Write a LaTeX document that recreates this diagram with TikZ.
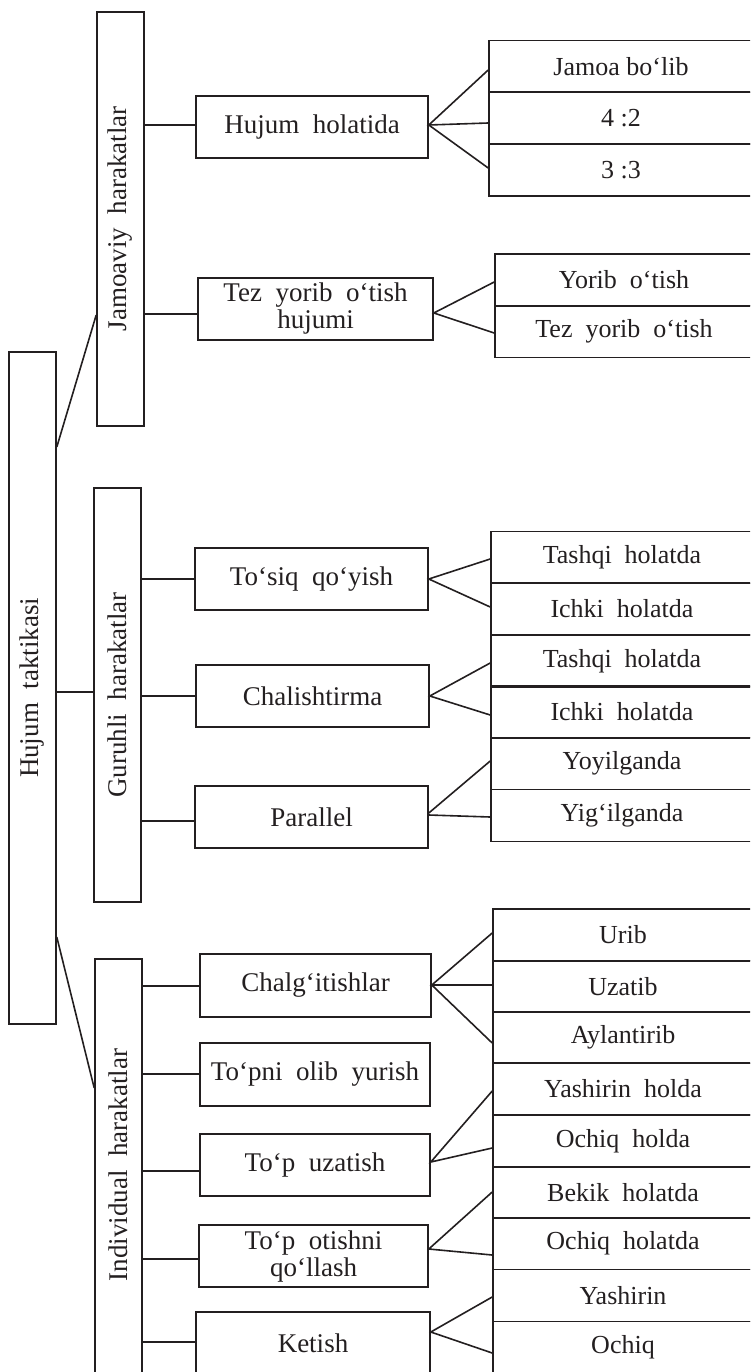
\documentclass[tikz,border=0pt]{standalone}
\usepackage{fontspec}
\setmainfont{Liberation Serif}
\definecolor{ink}{HTML}{231F20}
\begin{document}
\begin{tikzpicture}[x=1pt,y=-1pt,
  lw/.style={line width=1.6pt},
  bar/.style={draw=ink,lw,inner sep=0pt,minimum width=47,fill=none},
  vtext/.style={rotate=90,text=ink,inner sep=0pt,font=\fontsize{27}{28}\selectfont},
  midbox/.style={draw=ink,lw,inner sep=0pt,align=center,text=ink,minimum height=62,font=\fontsize{27}{27}\selectfont},
  rbox/.style={draw=ink,lw,inner sep=0pt,align=center,text=ink,minimum height=52,anchor=center,font=\fontsize{26}{27}\selectfont},
  conn/.style={draw=ink,lw}]
\clip (0,0) rectangle (750,1372);
% level 0 and 1 bars
\node[bar,minimum height=672] (main) at (32.5,688) {};
\node[vtext] (maint) at (main.center) {Hujum\ \ taktikasi};
\node[bar,minimum height=414] (jam) at (120.5,219) {};
\node[vtext] (jamt) at (jam.center) {Jamoaviy\ \ harakatlar};
\node[bar,minimum height=414] (gur) at (117.5,695) {};
\node[vtext] (gurt) at (gur.center) {Guruhli\ \ harakatlar};
\node[bar,minimum height=421] (ind) at (118.5,1169.5) {};
\node[vtext] (indt) at (118.5,1165) {Individual\ \ harakatlar};
% level 2
\node[midbox,minimum width=232] (hh) at (312,127) {Hujum\ \ holatida};
\node[midbox,minimum width=235] (tez) at (315.5,309) {Tez\ \ yorib\ \ o‘tish\\hujumi};
\node[midbox,minimum width=233] (tos) at (311.5,579) {To‘siq\ \ qo‘yish};
\node[midbox,minimum width=233] (cha) at (312.5,696) {Chalishtirma};
\node[midbox,minimum width=233] (par) at (311.5,817) {Parallel};
\node[midbox,minimum width=231,minimum height=63] (chg) at (315.5,985.5) {Chalg‘itishlar};
\node[midbox,minimum width=230,minimum height=63] (tpo) at (315,1074.5) {To‘pni\ \ olib\ \ yurish};
\node[midbox,minimum width=230] (tpu) at (315,1165) {To‘p\ \ uzatish};
\node[midbox,minimum width=229] (tpq) at (313.5,1256) {To‘p\ \ otishni\\qo‘llash};
\node[midbox,minimum width=234] (ket) at (313,1343) {Ketish};
% right boxes
\node[rbox,minimum width=264] (a1) at (621,66.5) {Jamoa bo‘lib};
\node[rbox,minimum width=264] (a2) at (621,118) {4 :2};
\node[rbox,minimum width=264] (a3) at (621,170) {3 :3};
\node[rbox,minimum width=258] (b1) at (624,280) {Yorib\ \ o‘tish};
\node[rbox,minimum width=258] (b2) at (624,331.5) {Tez\ \ yorib\ \ o‘tish};
\node[rbox,minimum width=262] (c1) at (622,557.5) {Tashqi\ \ holatda};
\node[rbox,minimum width=262] (c2) at (622,609) {Ichki\ \ holatda};
\node[rbox,minimum width=262] (c3) at (622,661) {Tashqi\ \ holatda};
\node[rbox,minimum width=262] (c4) at (622,712) {Ichki\ \ holatda};
\node[rbox,minimum width=262] (c5) at (622,763.5) {Yoyilganda};
\node[rbox,minimum width=262] (c6) at (622,815.5) {Yig‘ilganda};
\node[rbox,minimum width=260] (d1) at (623,935) {Urib};
\node[rbox,minimum width=260] (d2) at (623,986.5) {Uzatib};
\node[rbox,minimum width=260] (d3) at (623,1037.5) {Aylantirib};
\node[rbox,minimum width=260] (d4) at (623,1089) {Yashirin\ \ holda};
\node[rbox,minimum width=260] (d5) at (623,1141) {Ochiq\ \ holda};
\node[rbox,minimum width=260] (d6) at (623,1192.5) {Bekik\ \ holatda};
\node[rbox,minimum width=260] (d7) at (623,1243.5) {Ochiq\ \ holatda};
\node[rbox,minimum width=260] (d8) at (623,1295.5) {Yashirin};
\node[rbox,minimum width=260] (d9) at (623,1347.5) {Ochiq};
% level 0 -> 1
\draw[conn] (main.east |- 0,447) -- (jam.west |- 0,315);
\draw[conn] (main.east |- 0,692) -- (gur.west |- 0,692);
\draw[conn] (main.east |- 0,937) -- (ind.west |- 0,1088);
% level 1 -> 2
\draw[conn] (jam.east |- 0,125) -- (hh.west |- 0,125);
\draw[conn] (jam.east |- 0,314) -- (tez.west |- 0,314);
\draw[conn] (gur.east |- 0,579) -- (tos.west |- 0,579);
\draw[conn] (gur.east |- 0,696) -- (cha.west |- 0,696);
\draw[conn] (gur.east |- 0,821) -- (par.west |- 0,821);
\draw[conn] (ind.east |- 0,986) -- (chg.west |- 0,986);
\draw[conn] (ind.east |- 0,1074) -- (tpo.west |- 0,1074);
\draw[conn] (ind.east |- 0,1171) -- (tpu.west |- 0,1171);
\draw[conn] (ind.east |- 0,1259) -- (tpq.west |- 0,1259);
\draw[conn] (ind.east |- 0,1342) -- (ket.west |- 0,1342);
% level 2 -> 3 fans
\draw[conn] (a1.west |- 0,70) -- (hh.east |- 0,125) -- (a2.west |- 0,123);
\draw[conn] (hh.east |- 0,125) -- (a3.west |- 0,168);
\draw[conn] (b1.west |- 0,282) -- (tez.east |- 0,313) -- (b2.west |- 0,333);
\draw[conn] (c1.west |- 0,559) -- (tos.east |- 0,579) -- (c2.west |- 0,607);
\draw[conn] (c3.west |- 0,663) -- (cha.east |- 0,696) -- (c4.west |- 0,715);
\draw[conn] (c5.west |- 0,761) -- (par.east |- 0,813);
\draw[conn] (par.east |- 0,815) -- (c6.west |- 0,817);
\draw[conn] (d1.west |- 0,933) -- (chg.east |- 0,985) -- (d2.west |- 0,985);
\draw[conn] (chg.east |- 0,985) -- (d3.west |- 0,1043);
\draw[conn] (d4.west |- 0,1091) -- (tpu.east |- 0,1162) -- (d5.west |- 0,1148);
\draw[conn] (d6.west |- 0,1192) -- (tpq.east |- 0,1249) -- (d7.west |- 0,1255);
\draw[conn] (d8.west |- 0,1297) -- (ket.east |- 0,1332) -- (d9.west |- 0,1353);
\end{tikzpicture}
\end{document}
